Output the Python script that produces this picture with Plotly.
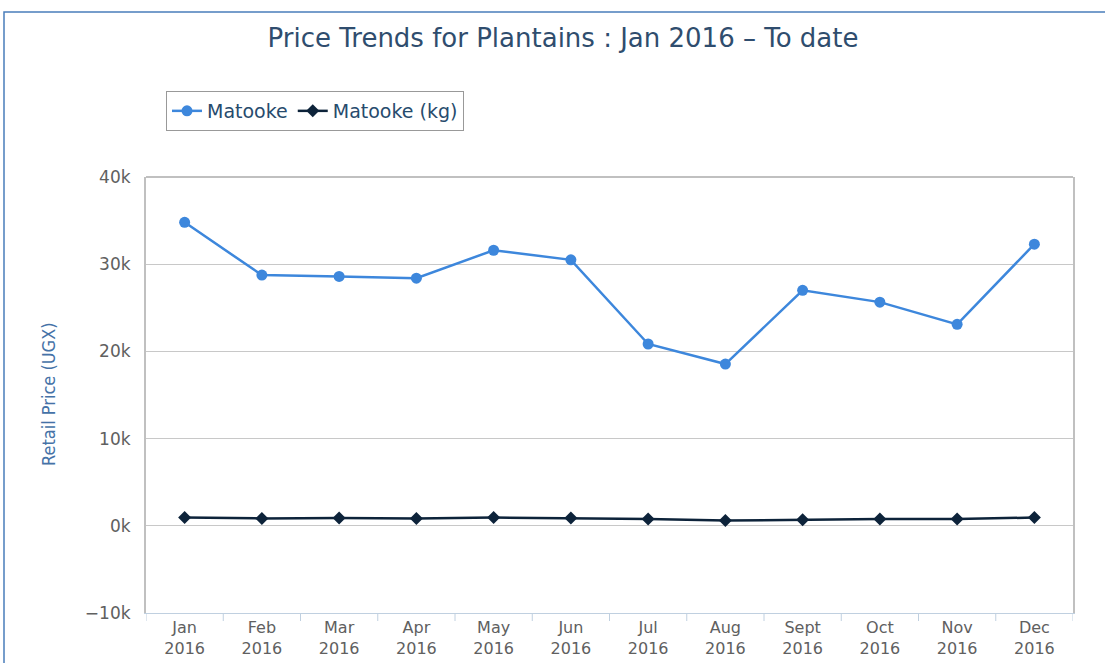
import plotly.graph_objects as go

months = ["Jan<br>2016", "Feb<br>2016", "Mar<br>2016", "Apr<br>2016", "May<br>2016", "Jun<br>2016",
          "Jul<br>2016", "Aug<br>2016", "Sept<br>2016", "Oct<br>2016", "Nov<br>2016", "Dec<br>2016"]
matooke = [34800, 28750, 28600, 28400, 31600, 30500, 20850, 18550, 27000, 25650, 23100, 32300]
matooke_kg = [950, 850, 900, 850, 950, 900, 770, 600, 700, 770, 770, 950]
y_ticks = [-10000, 0, 10000, 20000, 30000, 40000]
y_tick_text = ["−10k", "0k", "10k", "20k", "30k", "40k"]

W, H = 1105, 663
L, R, T, B = 146, 32, 177, 50
pw, ph = W - L - R, H - T - B

def px(x):
    return (x - L) / pw

def py(y):
    return (H - B - y) / ph

x_idx = list(range(len(months)))

fig = go.Figure()
fig.add_trace(go.Scatter(
    x=x_idx, y=matooke, name="Matooke", mode="lines+markers",
    line=dict(color="#3d87dc", width=2.5),
    marker=dict(symbol="circle", size=11, color="#3d87dc"),
))
fig.add_trace(go.Scatter(
    x=x_idx, y=matooke_kg, name="Matooke (kg)", mode="lines+markers",
    line=dict(color="#0d233a", width=2.5),
    marker=dict(symbol="diamond", size=10, color="#0d233a"),
))

fig.update_layout(
    width=W, height=H,
    margin=dict(l=L, r=R, t=T, b=B, autoexpand=False),
    paper_bgcolor="white", plot_bgcolor="white",
    title=dict(text="Price Trends for Plantains : Jan 2016 – To date",
               x=563 / W, xanchor="center", y=1 - 38 / H, yanchor="middle",
               font=dict(family="DejaVu Sans", size=26, color="#2f4d6e")),
    showlegend=True,
    legend=dict(orientation="h", x=px(166), y=py(91), xanchor="left", yanchor="top",
                bordercolor="#999999", borderwidth=1, bgcolor="white",
                font=dict(family="DejaVu Sans", size=19, color="#274b6d"),
                tracegroupgap=0),
    xaxis=dict(range=[-0.5, 11.5], tickvals=x_idx, ticktext=months, automargin=False,
               showgrid=False, zeroline=False,
               showline=True, linecolor="#c0d0e0", linewidth=1, mirror=False,
               ticks="",
               tickfont=dict(family="DejaVu Sans", size=16, color="#606060")),
    yaxis=dict(range=[-10000, 40000], tickvals=y_ticks, ticktext=y_tick_text, automargin=False,
               showgrid=True, gridcolor="#c8c8c8", gridwidth=1, zeroline=False,
               showline=True, linecolor="#c0c0c0", linewidth=2, mirror=True,
               ticks="", ticklabelstandoff=10,
               tickfont=dict(family="DejaVu Sans", size=17, color="#606060")),
)

# Category boundary tick marks on x axis
x_bounds = [i - 0.5 for i in range(len(months) + 1)]
for xb in x_bounds:
    fig.add_shape(type="line", xref="x", yref="paper", x0=xb, x1=xb, y0=0, y1=-8 / ph,
                  line=dict(color="#c0d0e0", width=1))

# Y axis title
fig.add_annotation(text="Retail Price (UGX)", xref="paper", yref="paper",
                   x=px(48), y=py(394), textangle=-90, showarrow=False,
                   xanchor="center", yanchor="middle",
                   font=dict(family="DejaVu Sans Condensed, DejaVu Sans", size=18, color="#4572a7"))

# Plot area top border
fig.add_shape(type="line", xref="paper", yref="paper", x0=0, x1=1, y0=1, y1=1,
              line=dict(color="#c0c0c0", width=2))
# Outer frame border
fig.add_shape(type="rect", xref="paper", yref="paper",
              x0=px(4), x1=px(1110), y0=py(670), y1=py(12),
              line=dict(color="#4a7ebb", width=1.5), fillcolor="rgba(0,0,0,0)", layer="below")

fig.write_html("out.html", config={"displayModeBar": False},
               post_script="document.body.style.margin='0';document.body.style.overflow='hidden';")
